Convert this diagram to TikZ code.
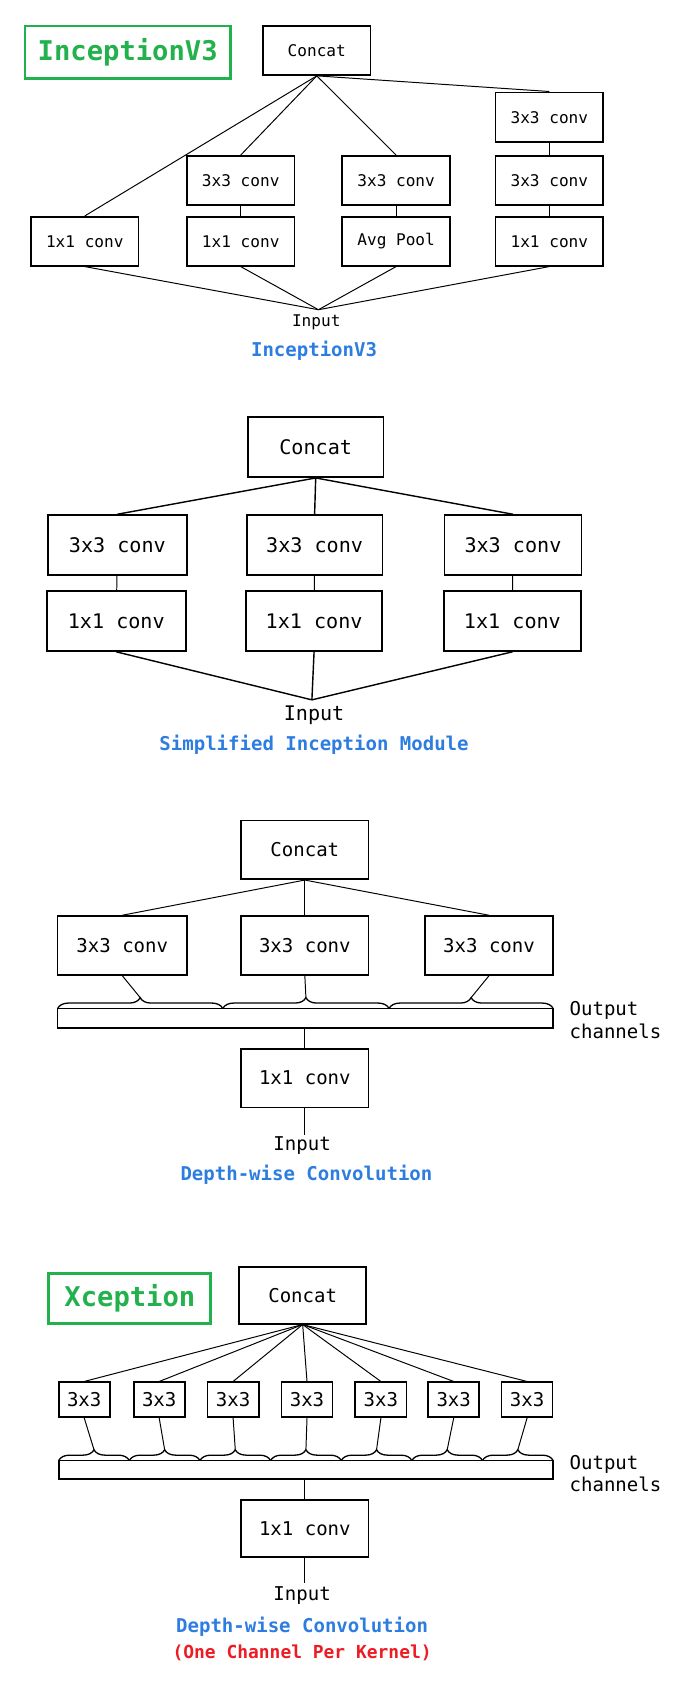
\documentclass[tikz,border=0pt]{standalone}
\usepackage{fontspec}
\setmainfont{DejaVu Sans Mono}
\usetikzlibrary{decorations.pathreplacing}
\definecolor{tgreen}{RGB}{34,177,76}
\definecolor{tblue}{RGB}{45,125,225}
\definecolor{tred}{RGB}{237,28,36}
\begin{document}
\begin{tikzpicture}[x=1pt,y=-1pt,
  box/.style={draw, line width=1.6pt, inner sep=0pt, align=center},
  boxA/.style={box, minimum width=99pt, minimum height=45pt, font=\fontsize{14.8}{17}\selectfont},
  boxB/.style={box, minimum width=126pt, minimum height=55pt, font=\fontsize{18.5}{21}\selectfont},
  boxC/.style={box, minimum width=117pt, minimum height=54pt, font=\fontsize{17.5}{20}\selectfont},
  boxS/.style={box, minimum width=47pt, minimum height=32pt, font=\fontsize{17.5}{20}\selectfont},
  bar/.style={draw, line width=1.6pt, inner sep=0pt},
  gbox/.style={draw=tgreen, line width=2.6pt, inner sep=0pt, text=tgreen, font=\fontsize{25}{28}\selectfont\bfseries},
  wire/.style={line width=0.9pt},
  wireB/.style={line width=1.3pt},
  brc/.style={line width=1.2pt, decorate, decoration={brace, amplitude=10pt}},
  lbl/.style={inner sep=0pt},
  btitle/.style={inner sep=0pt, text=tblue, font=\fontsize{17.5}{20}\selectfont\bfseries},
  rtitle/.style={inner sep=0pt, text=tred, font=\fontsize{16.5}{19}\selectfont\bfseries},
  outl/.style={inner sep=0pt, anchor=west, align=left, font=\fontsize{17.5}{21}\selectfont}
]
\useasboundingbox (0,0) rectangle (637,1568);

% ---------------- Panel 1: InceptionV3 ----------------
\node[gbox, minimum width=189pt, minimum height=48pt] (t1) at (117.5,48) {InceptionV3};
\node[boxA] (c1) at (291.5,46.5) {Concat};
\node[boxA] (a1) at (78,222) {1x1 conv};
\node[boxA] (b1) at (221.5,166) {3x3 conv};
\node[boxA] (b2) at (221.5,222) {1x1 conv};
\node[boxA] (d1) at (364.5,166) {3x3 conv};
\node[boxA] (d2) at (364.5,222) {Avg Pool};
\node[boxA, minimum height=46pt] (e1) at (505.5,108) {3x3 conv};
\node[boxA] (e2) at (505.5,166) {3x3 conv};
\node[boxA] (e3) at (505.5,222) {1x1 conv};
\coordinate (in1) at (293,285);
\node[lbl, font=\fontsize{14.8}{17}\selectfont] (lin1) at (291,297) {Input};
\node[btitle] (bt1) at (289,323) {InceptionV3};

\draw[wire] (c1.south) -- (a1.north);
\draw[wire] (c1.south) -- (b1.north);
\draw[wire] (c1.south) -- (d1.north);
\draw[wire] (c1.south) -- (e1.north);
\draw[wire] (b1) -- (b2);
\draw[wire] (d1) -- (d2);
\draw[wire] (e1) -- (e2);
\draw[wire] (e2) -- (e3);
\draw[wire] (a1.south) -- (in1);
\draw[wire] (b2.south) -- (in1);
\draw[wire] (d2.south) -- (in1);
\draw[wire] (e3.south) -- (in1);

% ---------------- Panel 2: Simplified Inception ----------------
\node[boxB, minimum width=125pt] (c2) at (290.5,411.5) {Concat};
\node[boxB, minimum width=128pt] (f1) at (108,501.5) {3x3 conv};
\node[boxB, minimum width=125pt] (g1) at (289.5,501.5) {3x3 conv};
\node[boxB] (h1) at (472,501.5) {3x3 conv};
\node[boxB, minimum width=128pt] (f2) at (107,571.5) {1x1 conv};
\node[boxB, minimum width=125pt] (g2) at (289,571.5) {1x1 conv};
\node[boxB] (h2) at (471.5,571.5) {1x1 conv};
\coordinate (in2) at (287,644);
\node[lbl, font=\fontsize{18.5}{21}\selectfont] (lin2) at (289,658) {Input};
\node[btitle] (bt2) at (289,685) {Simplified Inception Module};

\draw[wireB] (c2.south) -- (f1.north);
\draw[wireB] (c2.south) -- (g1.north);
\draw[wireB] (c2.south) -- (h1.north);
\draw[wire] (f1) -- (f2);
\draw[wire] (g1) -- (g2);
\draw[wire] (h1) -- (h2);
\draw[wireB] (f2.south) -- (in2);
\draw[wireB] (g2.south) -- (in2);
\draw[wireB] (h2.south) -- (in2);

% ---------------- Panel 3: Depth-wise Convolution ----------------
\node[boxC] (c3) at (280.5,782) {Concat};
\node[boxC, minimum width=119pt] (k1) at (112.5,870) {3x3 conv};
\node[boxC] (k2) at (280.5,870) {3x3 conv};
\node[boxC, minimum width=118pt] (k3) at (450,870) {3x3 conv};
\node[bar, minimum width=456pt, minimum height=18pt] (bar3) at (281,937) {};
\draw[brc] (53,928) -- (205,928);
\draw[brc] (205,928) -- (358,928);
\draw[brc] (358,928) -- (509,928);
\coordinate (p31) at (129,918);
\coordinate (p32) at (281.5,918);
\coordinate (p33) at (433.5,918);
\node[outl] (oc3) at (524,938.5) {Output\\channels};
\node[boxC] (m3) at (280.5,992) {1x1 conv};
\coordinate (in3) at (280.5,1044);
\node[lbl, font=\fontsize{17.5}{20}\selectfont] (lin3) at (278,1054) {Input};
\node[btitle] (bt3) at (282,1081) {Depth-wise Convolution};

\draw[wire] (c3.south) -- (k1.north);
\draw[wire] (c3.south) -- (k2.north);
\draw[wire] (c3.south) -- (k3.north);
\draw[wire] (k1.south) -- (p31);
\draw[wire] (k2.south) -- (p32);
\draw[wire] (k3.south) -- (p33);
\draw[wire] (m3.north) -- (m3.north |- bar3.south);
\draw[wire] (m3.south) -- (in3);

% ---------------- Panel 4: Xception ----------------
\node[gbox, minimum width=149pt, minimum height=46pt] (t4) at (119.5,1195) {Xception};
\node[boxC, minimum height=52pt] (c4) at (278.5,1192) {Concat};
\foreach \i/\xx in {1/77.5,2/146.5,3/214.5,4/282.5,5/350.5,6/417.5,7/485}{
  \node[boxS] (s\i) at (\xx,1288) {3x3};
  \draw[wire] (c4.south) -- (s\i.north);
}
\node[bar, minimum width=455pt, minimum height=17pt] (bar4) at (281.5,1352.5) {};
\foreach \i in {1,...,7}{
  \pgfmathsetmacro{\xa}{54+65*(\i-1)}
  \pgfmathsetmacro{\xb}{54+65*\i}
  \pgfmathsetmacro{\xm}{54+65*(\i-0.5)}
  \draw[brc] (\xa,1344) -- (\xb,1344);
  \coordinate (q\i) at (\xm,1334);
  \draw[wire] (s\i.south) -- (q\i);
}
\node[outl] (oc4) at (524,1356) {Output\\channels};
\node[boxC, minimum height=53pt] (m4) at (280.5,1406.5) {1x1 conv};
\coordinate (in4) at (280.5,1457);
\node[lbl, font=\fontsize{17.5}{20}\selectfont] (lin4) at (278,1468) {Input};
\node[btitle] (bt4) at (278,1497) {Depth-wise Convolution};
\node[rtitle] (rt4) at (278,1521) {(One Channel Per Kernel)};

\draw[wire] (m4.north) -- (m4.north |- bar4.south);
\draw[wire] (m4.south) -- (in4);
\end{tikzpicture}
\end{document}
